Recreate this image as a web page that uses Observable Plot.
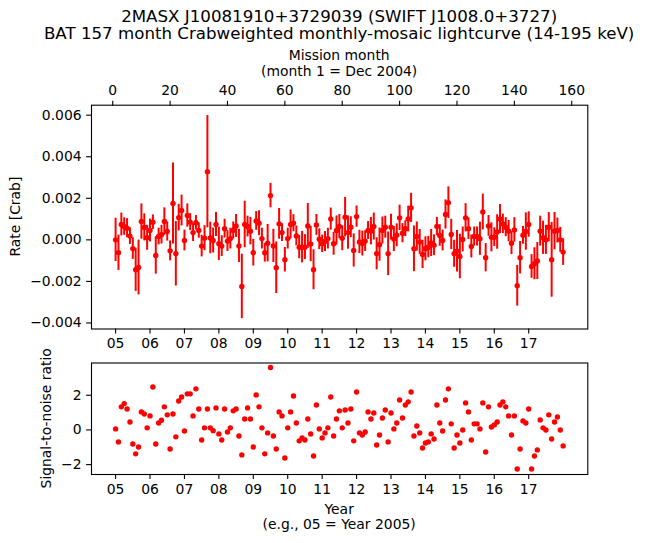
<!DOCTYPE html>
<html><head><meta charset="utf-8">
<script src="https://cdn.jsdelivr.net/npm/d3@7"></script>
<script src="https://cdn.jsdelivr.net/npm/@observablehq/plot@0.6"></script>
<style>
body{margin:0;background:#fff;}
#wrap{position:relative;width:646px;height:543px;background:#fff;overflow:hidden;}
#wrap svg{position:absolute;left:0;margin:0;}
</style></head><body><div id="wrap"></div>
<script>
// ---- data (month index 1..157, month 1 = Dec 2004) ----
const months = d3.range(1, 158);
const rate = [
 0, -0.00062, 0.00074, 0.00064, 0.00056, 0.00018, -0.00042, -0.00144, -0.00133, 0.00088,
 0.00060, 0.00010, 0.00045, 0.00085, -0.00075, 0.00016, 0.00025, 0.00088, 0.00040, -0.00053,
 0.00175, -0.00067, 0.00107, 0.00141, -0.00003, 0.00117, 0.00085, 0.00035, 0.00082, 0.00045,
 -0.00030, 0.00008, 0.00328, 0.00009, -0.00003, 0.00074, -0.00019, -0.00030, 0.00054, -0.00006,
 0.00006, 0.00045, 0.00067, -0.00029, -0.00224, 0.00074, 0.00064, 0.00042, -0.00062, 0.00091,
 0.00080, 0.00006, -0.00062, -0.00016, 0.00213, -0.00029, -0.00134, 0.00077, 0.00035, -0.00096,
 0.00006, 0.00074, 0.00080, 0.00019, -0.00035, -0.00035, -0.00035, 0.00067, -0.00020, -0.00144,
 0.00072, 0.00003, -0.00019, -0.00008, 0.00006, 0.00100, -0.00019, 0.00045, 0.00064, 0.00008,
 0.00109, 0.00035, 0.00061, -0.00051, 0.00112, -0.00010, -0.00018, -0.00006, 0.00045, 0.00042,
 0.00064, -0.00067, -0.00023, 0.00045, 0.00061, -0.00067, 0.00061, 0.00004, 0.00022, 0.00106,
 0.00032, 0.00054, 0.00100, 0.00154, -0.00043, 0.00016, -0.00010, -0.00070, -0.00043, -0.00035,
 -0.00015, -0.00026, 0.00064, 0.00021, -0.00003, 0.00122, 0.00179, 0.00026, -0.00067, -0.00055,
 -0.00080, 0.00002, 0.00106, 0.00054, -0.00032, 0.00016, 0.00016, 0.00005, 0.00134, -0.00086,
 0.00067, 0.00012, 0.00013, 0.00038, 0.00100, 0.00077, 0.00061, 0.00042, -0.00016, 0.00048,
 -0.00221, -0.00086, 0.00022, 0.00040, 0.00074, -0.00128, -0.00115, -0.00102, 0.00042, 0.00010,
 0.00000, 0.00061, -0.00096, 0.00042, 0.00045, 0.00000, -0.00059];
const rateErr = [
 0.00104, 0.00085, 0.00055, 0.00042, 0.00046, 0.00040, 0.00052, 0.00104, 0.00132, 0.00085,
 0.00065, 0.00060, 0.00055, 0.00035, 0.00090, 0.00040, 0.00045, 0.00066, 0.00046, 0.00048,
 0.00195, 0.00155, 0.00064, 0.00074, 0.00050, 0.00056, 0.00041, 0.00043, 0.00035, 0.00037,
 0.00052, 0.00060, 0.00270, 0.00076, 0.00060, 0.00058, 0.00080, 0.00050, 0.00045, 0.00050,
 0.00050, 0.00041, 0.00055, 0.00080, 0.00155, 0.00112, 0.00050, 0.00066, 0.00064, 0.00045,
 0.00060, 0.00050, 0.00045, 0.00090, 0.00059, 0.00080, 0.00124, 0.00074, 0.00043, 0.00059,
 0.00050, 0.00070, 0.00041, 0.00048, 0.00056, 0.00076, 0.00060, 0.00108, 0.00085, 0.00096,
 0.00050, 0.00050, 0.00042, 0.00048, 0.00050, 0.00053, 0.00055, 0.00070, 0.00058, 0.00060,
 0.00095, 0.00080, 0.00050, 0.00080, 0.00051, 0.00056, 0.00060, 0.00050, 0.00043, 0.00066,
 0.00065, 0.00077, 0.00080, 0.00065, 0.00053, 0.00105, 0.00062, 0.00060, 0.00055, 0.00061,
 0.00046, 0.00038, 0.00062, 0.00070, 0.00110, 0.00070, 0.00060, 0.00068, 0.00058, 0.00051,
 0.00065, 0.00050, 0.00044, 0.00052, 0.00050, 0.00070, 0.00076, 0.00073, 0.00065, 0.00100,
 0.00107, 0.00060, 0.00068, 0.00052, 0.00055, 0.00046, 0.00046, 0.00080, 0.00086, 0.00068,
 0.00050, 0.00070, 0.00045, 0.00083, 0.00070, 0.00047, 0.00046, 0.00051, 0.00055, 0.00059,
 0.00098, 0.00078, 0.00043, 0.00090, 0.00061, 0.00057, 0.00077, 0.00089, 0.00072, 0.00080,
 0.00070, 0.00070, 0.00180, 0.00090, 0.00060, 0.00060, 0.00064];
const snr = [
 0.06, -0.69, 1.33, 1.52, 1.21, 0.46, -0.81, -1.38, -0.98, 1.04,
 0.92, 0.12, 0.81, 2.48, -0.81, 0.40, 0.56, 1.33, 0.87, -1.10,
 0.92, -0.40, 1.67, 1.90, -0.06, 2.08, 2.08, 0.81, 2.37, 1.21,
 -0.58, 0.12, 1.21, 0.12, -0.04, 1.27, -0.23, -0.58, 1.21, -0.12,
 0.12, 1.10, 1.21, -0.35, -1.44, 0.63, 1.27, 0.63, -0.98, 2.02,
 1.33, 0.12, -1.38, -0.17, 3.60, -0.35, -1.10, 1.04, 0.81, -1.62,
 0.12, 1.04, 1.96, 0.40, -0.63, -0.46, -0.58, 0.63, -0.23, -1.50,
 1.44, 0.06, -0.46, -0.17, 0.12, 1.90, -0.35, 0.63, 1.10, 0.12,
 1.15, 0.40, 1.21, -0.63, 2.19, -0.17, -0.29, -0.12, 1.04, 0.63,
 0.98, -0.87, -0.29, 0.69, 1.15, -0.69, 0.98, 0.06, 0.40, 1.73,
 0.69, 1.44, 1.62, 2.19, -0.35, 0.23, -0.17, -1.04, -0.75, -0.69,
 -0.23, -0.52, 1.44, 0.40, -0.06, 1.73, 2.37, 0.35, -1.04, -0.29,
 -0.75, 0.00, 1.56, 1.04, -0.58, 0.35, 0.35, 0.06, 1.56, -1.27,
 1.33, 0.17, 0.29, 0.46, 1.44, 1.62, 1.33, 0.81, -0.29, 0.81,
 -2.25, -1.10, 0.52, 0.40, 1.21, -2.25, -1.50, -1.15, 0.58, 0.12,
 0.00, 0.87, -0.52, 0.46, 0.75, 0.00, -0.92];
const yearLabels = ["05","06","07","08","09","10","11","12","13","14","15","16","17"];
const yearTickMonths = [1,13,25,37,49,61,73,85,97,109,121,133,145];
const monthTicks = [0,20,40,60,80,100,120,140,160];
const rateTicks = [-0.004,-0.002,0,0.002,0.004,0.006];
const snrTicks = [-2,0,2];

const rows = months.map((m,i)=>({month:m, rate:rate[i], lo:rate[i]-rateErr[i], hi:rate[i]+rateErr[i], snr:snr[i]}));
const yearLabelAt = new Map(yearTickMonths.map((m,i)=>[m, yearLabels[i]]));

const FONT = "DejaVu Sans";
const TICK = 13.9;
const RED = "#ff0000";
const baseStyle = {fontFamily: FONT, fontSize: TICK+"px", color:"black", background:"transparent", overflow:"visible"};
const xDomain = [-7.4, 165.6];
const ML = 91, MR = 58.7;

const topPlot = Plot.plot({
  width: 646, height: 360, marginLeft: ML, marginRight: MR, marginTop: 104.7, marginBottom: 31.5,
  style: baseStyle,
  x: {domain: xDomain},
  y: {domain: [-0.00429, 0.00648]},
  marks: [
    Plot.ruleX(rows, {x:"month", y1:"lo", y2:"hi", stroke:RED, strokeWidth:2}),
    Plot.dot(rows, {x:"month", y:"rate", fill:RED, r:2.7}),
    Plot.frame({stroke:"black", strokeWidth:1.1}),
    Plot.axisX(yearTickMonths, {anchor:"bottom", tickFormat:d=>yearLabelAt.get(d), tickSize:4.9, tickPadding:4.5, label:null, strokeWidth:1.1}),
    Plot.axisX(monthTicks, {anchor:"top", tickSize:4.9, tickPadding:5, label:null, strokeWidth:1.1}),
    Plot.axisY(rateTicks, {anchor:"left", tickFormat:d3.format(".3f"), tickSize:4.9, tickPadding:5, label:null, strokeWidth:1.1})
  ]
});
topPlot.style.top = "0px";

const bottomPlot = Plot.plot({
  width: 646, height: 183, marginLeft: ML, marginRight: MR, marginTop: 2.5, marginBottom: 69,
  style: baseStyle,
  x: {domain: xDomain},
  y: {domain: [-2.57, 3.86]},
  marks: [
    Plot.dot(rows, {x:"month", y:"snr", fill:RED, r:2.7}),
    Plot.frame({stroke:"black", strokeWidth:1.1}),
    Plot.axisX(yearTickMonths, {anchor:"bottom", tickFormat:d=>yearLabelAt.get(d), tickSize:4.9, tickPadding:4.5, label:null, strokeWidth:1.1}),
    Plot.axisY(snrTicks, {anchor:"left", tickFormat:d3.format("d"), tickSize:4.9, tickPadding:5, label:null, strokeWidth:1.1})
  ]
});
bottomPlot.style.top = "360px";

const wrap = document.getElementById("wrap");
wrap.appendChild(topPlot);
wrap.appendChild(bottomPlot);

// ---- titles and axis labels ----
const ov = d3.select(wrap).append("svg").attr("width",646).attr("height",543)
  .style("top","0px").style("pointer-events","none")
  .attr("font-family", FONT).attr("fill","black");
const cx = ML + (646-ML-MR)/2;
const texts = [
  {t:"2MASX J10081910+3729039 (SWIFT J1008.0+3727)", x:cx, y:21.7, s:16.67},
  {t:"BAT 157 month Crabweighted monthly-mosaic lightcurve (14-195 keV)", x:cx, y:39.3, s:16.67},
  {t:"Mission month", x:cx, y:60, s:TICK},
  {t:"(month 1 = Dec 2004)", x:cx, y:75.5, s:TICK},
  {t:"Year", x:cx, y:514, s:TICK},
  {t:"(e.g., 05 = Year 2005)", x:cx, y:528.5, s:TICK}
];
texts.forEach(d=>ov.append("text").attr("x",d.x).attr("y",d.y).attr("text-anchor","middle").attr("font-size",d.s).text(d.t));
ov.append("text").attr("transform","translate(20,216.6) rotate(-90)").attr("text-anchor","middle").attr("font-size",TICK).text("Rate [Crab]");
ov.append("text").attr("transform","translate(50.5,418.3) rotate(-90)").attr("text-anchor","middle").attr("font-size",TICK).text("Signal-to-noise ratio");
</script></body></html>
